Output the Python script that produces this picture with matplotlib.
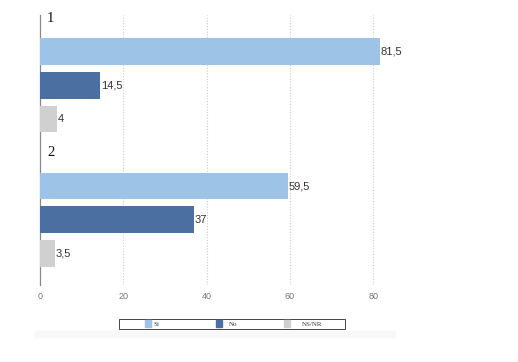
import numpy as np
import matplotlib.pyplot as plt
from matplotlib.patches import Rectangle

groups = ['1', '2']
series = ['Sí', 'No', 'NS/NR']
values = {
    'Sí': [81.5, 59.5],
    'No': [14.5, 37],
    'NS/NR': [4, 3.5],
}
colors = ['#9dc3e6', '#4a6fa0', '#d0d0d0']
xticks = [0, 20, 40, 60, 80]

fig = plt.figure(figsize=(5.18, 3.62), dpi=100)
ax = fig.add_axes([0.0772, 0.2127, 0.8046, 0.7459])

# each group: one slot for its label, then one slot per bar
for g, name in enumerate(groups):
    base = g * 4
    ax.text(1.7, base, name, family='Liberation Serif', fontsize=10.5,
            va='center', ha='left', color='#111111')
    for s, ser in enumerate(series):
        v = values[ser][g]
        y = base + 1 + s
        ax.barh(y, v, height=0.8, color=colors[s], zorder=3)
        lab = ('%g' % v).replace('.', ',')
        ax.text(v + 0.2, y, lab, va='center', ha='left', fontsize=8,
                family='Liberation Sans', color='#333333', zorder=4)

ax.set_xlim(0, 100)
ax.set_ylim(7.95, -0.1)
ax.set_xticks(xticks)
ax.set_xticklabels([str(t) for t in xticks], fontsize=6.5, color='#777777',
                   family='Liberation Sans')
ax.set_yticks([])
ax.tick_params(axis='x', length=0, pad=5)
for t in xticks[1:]:
    ax.axvline(t, color='#cccccc', lw=0.8, ls=(0, (1, 1.5)), zorder=1)
for sp in ['top', 'right', 'bottom']:
    ax.spines[sp].set_visible(False)
ax.spines['left'].set_color('#888888')
ax.spines['left'].set_linewidth(0.9)

# legend drawn by hand in figure pixels
W, H = 518.0, 362.0
def fx(px): return px / W
def fy(py): return 1 - py / H

fig.patches.append(Rectangle((fx(35), fy(337)), fx(360), 6 / H,
                             transform=fig.transFigure, color='#f8f8f8', zorder=0))
fig.patches.append(Rectangle((fx(119), fy(329)), fx(226), 10 / H,
                             transform=fig.transFigure, facecolor='white',
                             edgecolor='#444444', lw=0.7, zorder=1))
leg_x = [145, 216, 284]
txt_x = [153, 229, 302]
for i, ser in enumerate(series):
    fig.patches.append(Rectangle((fx(leg_x[i]), fy(327)), fx(6), 7 / H,
                                 transform=fig.transFigure, color=colors[i], zorder=2))
    fig.text(fx(txt_x[i]), fy(324), ser, family='Liberation Serif', fontsize=5,
             va='center', ha='left', color='#333333')

fig.savefig('out.png', dpi=100)
